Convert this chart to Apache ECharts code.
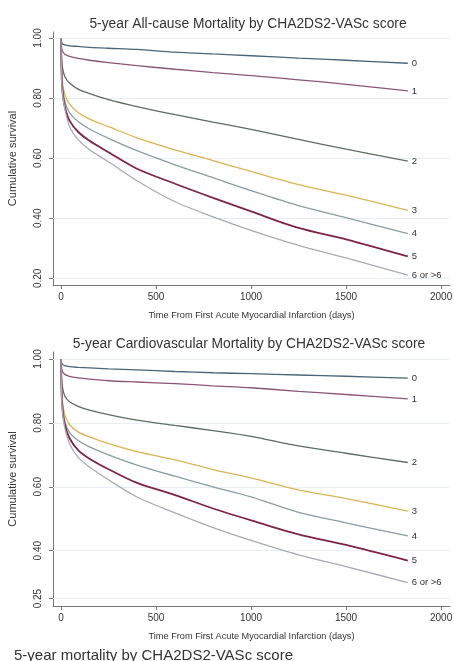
<!DOCTYPE html>
<html><head><meta charset="utf-8">
<script src="https://cdn.jsdelivr.net/npm/echarts@6/dist/echarts.min.js"></script>
<style>html,body{margin:0;padding:0;background:#fff}#c{width:454px;height:661px}</style>
</head><body><div id="c"></div>
<script>
const days = [0, 2, 7, 20, 45, 90, 150, 250, 400, 600, 800, 1000, 1250, 1500, 1825];
const scoreNames = ['0', '1', '2', '3', '4', '5', '6 or >6'];
const xTicks = [0, 500, 1000, 1500, 2000];
const yTicksTop = [0.2, 0.4, 0.6, 0.8, 1.0];
const yTicksBottom = [0.25, 0.4, 0.6, 0.8, 1.0];

// All-cause mortality survival
const all0 = [1.0, 0.988, 0.981, 0.977, 0.974, 0.972, 0.969, 0.966, 0.962, 0.953, 0.947, 0.941, 0.933, 0.926, 0.916];
const all1 = [1.0, 0.975, 0.958, 0.946, 0.939, 0.932, 0.926, 0.918, 0.908, 0.896, 0.885, 0.875, 0.861, 0.846, 0.824];
const all2 = [1.0, 0.955, 0.905, 0.872, 0.850, 0.830, 0.815, 0.795, 0.772, 0.745, 0.720, 0.696, 0.663, 0.630, 0.590];
const all3 = [1.0, 0.930, 0.860, 0.812, 0.780, 0.752, 0.730, 0.705, 0.668, 0.628, 0.592, 0.556, 0.512, 0.477, 0.426];
const all4 = [1.0, 0.920, 0.840, 0.790, 0.752, 0.722, 0.697, 0.666, 0.625, 0.578, 0.535, 0.492, 0.442, 0.402, 0.349];
const all5 = [1.0, 0.910, 0.830, 0.772, 0.725, 0.688, 0.658, 0.620, 0.565, 0.515, 0.468, 0.423, 0.368, 0.330, 0.273];
const all6 = [1.0, 0.900, 0.820, 0.765, 0.705, 0.662, 0.628, 0.588, 0.525, 0.455, 0.405, 0.360, 0.310, 0.268, 0.211];

// Cardiovascular mortality survival
const cv0 = [1.0, 0.990, 0.984, 0.979, 0.976, 0.974, 0.972, 0.969, 0.966, 0.961, 0.957, 0.954, 0.950, 0.946, 0.940];
const cv1 = [1.0, 0.978, 0.962, 0.952, 0.946, 0.941, 0.937, 0.932, 0.928, 0.923, 0.916, 0.910, 0.899, 0.889, 0.875];
const cv2 = [1.0, 0.960, 0.915, 0.884, 0.866, 0.852, 0.840, 0.826, 0.809, 0.792, 0.776, 0.758, 0.728, 0.705, 0.676];
const cv3 = [1.0, 0.940, 0.875, 0.826, 0.795, 0.772, 0.756, 0.735, 0.710, 0.684, 0.654, 0.628, 0.590, 0.563, 0.524];
const cv4 = [1.0, 0.930, 0.860, 0.805, 0.770, 0.745, 0.725, 0.700, 0.668, 0.633, 0.600, 0.568, 0.520, 0.487, 0.446];
const cv5 = [1.0, 0.920, 0.850, 0.795, 0.752, 0.715, 0.688, 0.655, 0.612, 0.574, 0.532, 0.495, 0.451, 0.418, 0.369];
const cv6 = [1.0, 0.915, 0.840, 0.785, 0.735, 0.692, 0.662, 0.622, 0.568, 0.518, 0.472, 0.432, 0.387, 0.350, 0.300];

const allSeries = [all0, all1, all2, all3, all4, all5, all6];
const cvSeries = [cv0, cv1, cv2, cv3, cv4, cv5, cv6];
const colors = ['#4a6479', '#8c5673', '#5d6b64', '#dcb354', '#879ea3', '#7e2444', '#a9acb6'];
const widths = [1.3, 1.3, 1.3, 1.3, 1.3, 1.8, 1.3];

const txt = '#333';
const ff = 'Liberation Sans';
function xAxis(gi) {
  return {
    type: 'value', gridIndex: gi, min: -42, max: 2047,
    name: 'Time From First Acute Myocardial Infarction (days)',
    nameLocation: 'middle', nameGap: 26,
    nameTextStyle: { fontSize: 9.2, color: txt, fontFamily: ff },
    axisLine: { show: true, onZero: false, lineStyle: { color: '#777', width: 1 } },
    axisTick: { show: true, length: 4, customValues: xTicks, lineStyle: { color: '#777' } },
    axisLabel: { customValues: xTicks, fontSize: 10, color: txt, margin: 7, fontFamily: ff,
      formatter: v => String(v) },
    splitLine: { show: false }
  };
}
function yAxis(gi, ticks, min, max) {
  return {
    type: 'value', gridIndex: gi, min: min, max: max,
    name: 'Cumulative survival', nameLocation: 'middle', nameGap: 35,
    nameTextStyle: { fontSize: 11, color: txt, fontFamily: ff },
    axisLine: { show: true, onZero: false, lineStyle: { color: '#777', width: 1 } },
    axisTick: { show: true, length: 4, customValues: ticks, lineStyle: { color: '#777' } },
    axisLabel: { customValues: ticks, rotate: 90, fontSize: 10, color: txt, margin: 10,
      fontFamily: ff, formatter: v => v.toFixed(2) },
    splitLine: { show: false }
  };
}
function makeSeries(list, gi, ticks) {
  return list.map((vals, i) => ({
    type: 'line', name: scoreNames[i], xAxisIndex: gi, yAxisIndex: gi,
    data: days.map((d, k) => [d, vals[k]]),
    showSymbol: false, symbol: 'none', smooth: 0.3,
    lineStyle: { color: colors[i], width: widths[i] },
    itemStyle: { color: colors[i] },
    z: 3,
    endLabel: { show: true, formatter: scoreNames[i], distance: 4, fontSize: 9.5, color: txt, fontFamily: ff },
    markLine: i === 0 ? {
      silent: true, symbol: 'none', label: { show: false },
      lineStyle: { color: '#e9eef2', type: 'solid', width: 1 },
      data: ticks.map(t => ({ yAxis: t })), z: 1
    } : undefined,
    animation: false
  }));
}

const chart = echarts.init(document.getElementById('c'));
chart.setOption({
  backgroundColor: '#fff',
  animation: false,
  title: [
    { text: '5-year All-cause Mortality by CHA2DS2-VASc score', left: 243, top: 12, textAlign: 'center',
      textStyle: { fontSize: 13.8, fontWeight: 'normal', color: txt, fontFamily: ff } },
    { text: '5-year Cardiovascular Mortality by CHA2DS2-VASc score', left: 244, top: 332, textAlign: 'center',
      textStyle: { fontSize: 13.8, fontWeight: 'normal', color: txt, fontFamily: ff } },
    { text: '5-year mortality by CHA2DS2-VASc score', left: 9, top: 643,
      textStyle: { fontSize: 15, fontWeight: 'normal', color: txt, fontFamily: ff } }
  ],
  grid: [
    { left: 53, top: 32, width: 397, height: 253, outerBoundsMode: 'none', containLabel: false },
    { left: 53, top: 352, width: 397, height: 254, outerBoundsMode: 'none', containLabel: false }
  ],
  xAxis: [xAxis(0), xAxis(1)],
  yAxis: [yAxis(0, yTicksTop, 0.178, 1.02), yAxis(1, yTicksBottom, 0.2267, 1.022)],
  series: [...makeSeries(allSeries, 0, yTicksTop), ...makeSeries(cvSeries, 1, yTicksBottom)]
});
</script></body></html>
